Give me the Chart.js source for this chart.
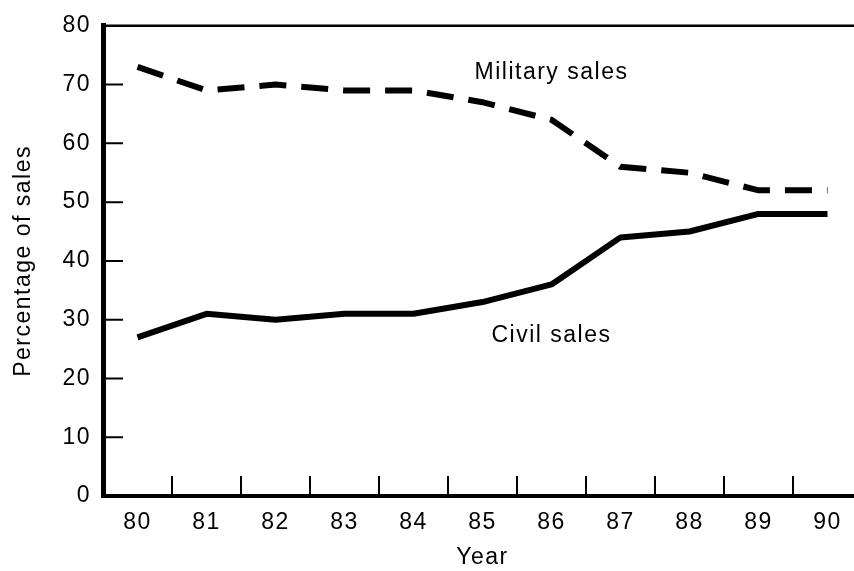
<!DOCTYPE html>
<html>
<head>
<meta charset="utf-8">
<script src="https://cdn.jsdelivr.net/npm/chart.js@4.4.1/dist/chart.umd.min.js"></script>
<style>
  html, body { margin: 0; padding: 0; overflow: hidden; background: #fff; }
  #wrap { width: 870px; height: 571px; }
</style>
</head>
<body>
<div id="wrap"><canvas id="sales-chart"></canvas></div>
<script>
const years = ['80', '81', '82', '83', '84', '85', '86', '87', '88', '89', '90'];
const militarySales = [73, 69, 70, 69, 69, 67, 64, 56, 55, 52, 52];
const civilSales = [27, 31, 30, 31, 31, 33, 36, 44, 45, 48, 48];
const yTicks = [0, 10, 20, 30, 40, 50, 60, 70, 80];

const seriesNames = ['Military sales', 'Civil sales'];
// where the line names sit, in axis units (year index, percent)
const nameAnchors = [[6, 71], [6, 26.2]];

const FONT = 'Liberation Sans, Arial, Helvetica, sans-serif';
const SIZE = 23;
const ink = '#000';

// ticks pointing into the plot, the top frame line and the line names
const paperAxes = {
  id: 'paperAxes',
  beforeDraw(chart) {
    chart.ctx.letterSpacing = '1.5px';
  },
  afterDatasetsDraw(chart) {
    const { ctx, chartArea: a, scales: { x, y } } = chart;
    ctx.save();
    ctx.strokeStyle = ink;
    ctx.lineWidth = 2.5;
    ctx.beginPath();
    ctx.moveTo(a.left, a.top);
    ctx.lineTo(a.right, a.top);
    ctx.stroke();

    ctx.lineWidth = 2;
    ctx.beginPath();
    yTicks.forEach(v => {
      if (v === 0 || v === 80) return;
      const py = y.getPixelForValue(v);
      ctx.moveTo(a.left, py);
      ctx.lineTo(a.left + 20, py);
    });
    for (let i = 0; i < years.length - 1; i++) {
      const px = x.getPixelForValue(i + 0.5);
      ctx.moveTo(px, a.bottom);
      ctx.lineTo(px, a.bottom - 20);
    }
    ctx.stroke();

    ctx.fillStyle = ink;
    ctx.font = SIZE + 'px ' + FONT;
    ctx.textAlign = 'center';
    ctx.textBaseline = 'alphabetic';
    seriesNames.forEach((name, i) => {
      const [ix, v] = nameAnchors[i];
      ctx.fillText(name, x.getPixelForValue(ix), y.getPixelForValue(v));
    });
    ctx.restore();
  }
};

new Chart(document.querySelector('#sales-chart'), {
  type: 'line',
  data: {
    labels: years,
    datasets: [{
      label: seriesNames[0],
      data: militarySales,
      borderColor: ink,
      borderWidth: 6,
      borderDash: [27, 15],
      borderCapStyle: 'butt',
      pointRadius: 0,
      tension: 0
    }, {
      label: seriesNames[1],
      data: civilSales,
      borderColor: ink,
      borderWidth: 6,
      borderJoinStyle: 'round',
      borderCapStyle: 'butt',
      pointRadius: 0,
      tension: 0
    }]
  },
  options: {
    responsive: true,
    maintainAspectRatio: false,
    animation: false,
    layout: { padding: { top: 20, right: 8, left: 0, bottom: 0 } },
    plugins: {
      legend: { display: false },
      tooltip: { enabled: false }
    },
    scales: {
      x: {
        offset: true,
        grid: { display: false, drawTicks: false },
        border: { display: true, color: ink, width: 4 },
        ticks: {
          color: ink,
          font: { family: FONT, size: SIZE },
          padding: 13,
          maxRotation: 0,
          autoSkip: false
        },
        title: {
          display: true,
          text: 'Year',
          color: ink,
          font: { family: FONT, size: SIZE },
          padding: { top: 0, bottom: 0 }
        },
        afterFit(scale) { scale.height = 75; }
      },
      y: {
        min: 0,
        max: 80,
        afterBuildTicks(axis) { axis.ticks = yTicks.map(v => ({ value: v })); },
        grid: { display: false, drawTicks: false },
        border: { display: true, color: ink, width: 5 },
        ticks: {
          color: ink,
          font: { family: FONT, size: SIZE },
          padding: 12
        },
        title: {
          display: true,
          text: 'Percentage of sales',
          color: ink,
          font: { family: FONT, size: SIZE },
          padding: { top: 10, bottom: 0 }
        },
        afterFit(scale) { scale.width = 103; }
      }
    }
  },
  plugins: [paperAxes]
});
</script>
</body>
</html>
